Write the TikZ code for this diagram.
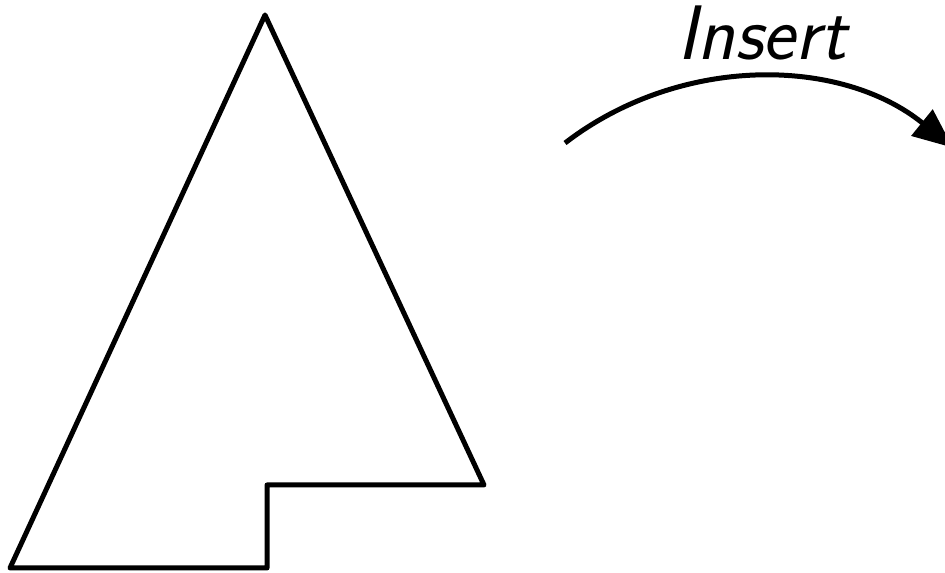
\documentclass[tikz,border=0pt]{standalone}
\usepackage{tikz}
\usetikzlibrary{arrows.meta, positioning, calc}

\begin{document}
\begin{tikzpicture}[
  x=0.02cm, y=0.02cm,
  shape line/.style={line width=0.1cm, line join=round, line cap=round},
  arr/.style={line width=0.1cm, -{Triangle[length=0.8cm, width=0.66cm]}},
  lbl/.style={font=\fontsize{44}{53}\selectfont\sffamily\itshape, inner sep=0pt},
]
  \useasboundingbox (0,0) rectangle (945,573);

  % notched triangle
  \draw[shape line] (265,558) -- (10,5) -- (267,5) -- (267,88)
    -- (484,88) -- cycle;

  % curved arrow
  \coordinate (cen) at (756,182);
  \coordinate (start) at ($(cen)+(127.6:313)$);
  \draw[arr] (start) arc[start angle=127.6, end angle=51, radius=313];
  \node[lbl, anchor=base] (insert) at (762,513) {Insert};
\end{tikzpicture}
\end{document}
